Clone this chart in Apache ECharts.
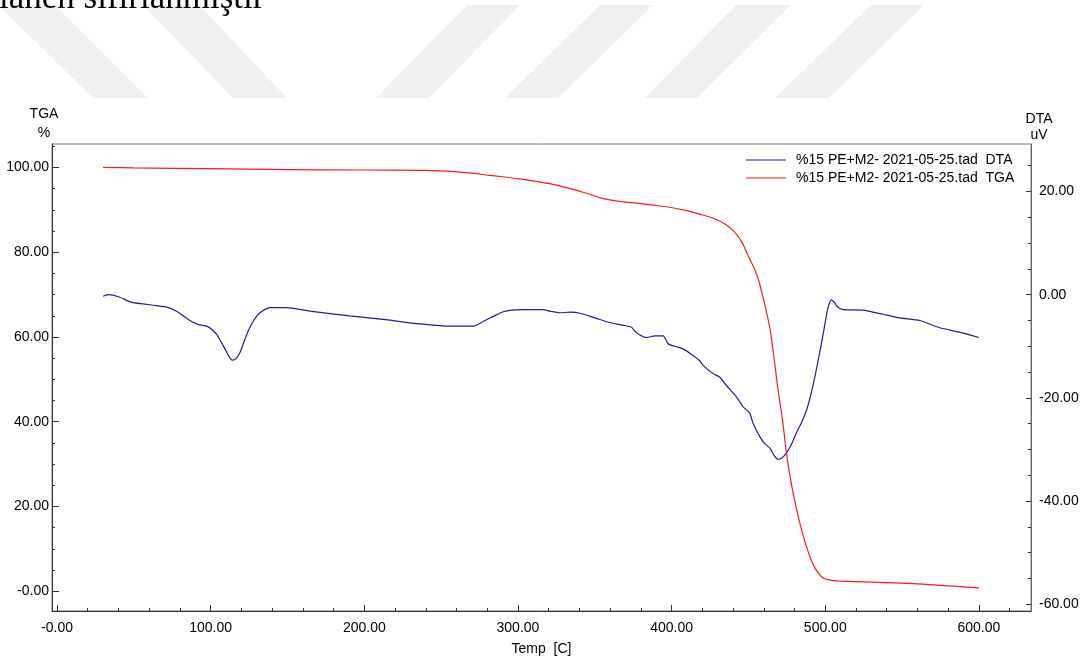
<!DOCTYPE html>
<html>
<head>
<meta charset="utf-8">
<title>TGA / DTA</title>
<script src="https://cdn.jsdelivr.net/npm/echarts@6/dist/echarts.min.js"></script>
<style>
  html, body { margin: 0; padding: 0; background: #ffffff; }
  #chart { width: 1087px; height: 661px; }
</style>
</head>
<body>
<div id="chart"></div>
<script>
// ---- Data: TGA mass (%) and DTA signal (uV) against temperature (C) ----
const tgaTemp = [30, 50, 100, 150, 200, 236, 250, 268.7, 280, 290, 301, 312, 322.7, 334, 344.6,
  355, 366, 377, 388, 398.8, 409.7, 418, 427, 435, 441, 446, 450, 453, 456.3, 459.6, 463.9,
  466.5, 469.3, 472.5, 474.4, 476.9, 480, 483.5, 486.7, 491, 495, 498.4, 503, 510, 550, 575, 600];
const tgaMass = [100.0, 99.9, 99.7, 99.5, 99.4, 99.3, 99.2, 98.7, 98.2, 97.8, 97.3, 96.7, 96.0, 95.0, 93.9,
  92.7, 92.0, 91.6, 91.1, 90.6, 89.8, 89.0, 88.0, 86.6, 84.8, 82.2, 79.0, 76.8, 73.8, 69.2, 62.2,
  55.5, 47.5, 39.5, 33.5, 27.5, 21.5, 16.0, 11.8, 7.2, 4.5, 3.2, 2.6, 2.4, 1.9, 1.4, 0.8];

const dtaTemp = [30, 33.4, 40, 48.6, 56.2, 64, 71.4, 77.9, 86.5, 92, 97.4, 101, 103.9, 106.5, 109.3,
  112, 114.3, 116.5, 119.1, 121.5, 124.5, 128, 132.1, 138.6, 149.4, 164.6, 190.6, 212.3, 234, 253.5,
  270.9, 277.4, 284, 290.4, 296, 303.4, 316.4, 320.8, 327.3, 334, 340.3, 350, 359.8, 368, 373.9,
  376.5, 379.3, 383.7, 389, 394.5, 397.7, 402, 407.5, 413, 418.3, 420.5, 427, 431.4, 435.7, 442.2,
  446.5, 450.9, 453, 457.4, 460.5, 463.9, 467, 469.3, 471.5, 474.7, 478, 481.2, 484.5, 487.8, 490.5,
  493.2, 496, 498.6, 500.3, 501.8, 504, 506, 508, 511.6, 524.6, 537.6, 548.5, 561.5, 574.5, 588, 600];
const dtaSignal = [-0.3, 0.0, -0.4, -1.5, -1.8, -2.1, -2.4, -3.2, -5.0, -5.8, -6.1, -6.8, -7.7, -9.0, -10.5,
  -12.0, -12.7, -12.4, -11.2, -9.3, -7.0, -5.0, -3.5, -2.5, -2.5, -3.2, -4.1, -4.8, -5.6, -6.1,
  -6.1, -5.2, -4.2, -3.3, -3.0, -2.9, -2.9, -3.2, -3.5, -3.4, -3.6, -4.5, -5.4, -5.9, -6.3,
  -7.2, -7.8, -8.3, -8.0, -8.0, -9.5, -10.0, -10.5, -11.6, -12.8, -13.7, -15.3, -16.0, -17.6, -19.8,
  -21.7, -23.0, -24.9, -27.5, -28.8, -29.7, -31.3, -31.9, -31.7, -30.7, -29.0, -26.8, -24.8, -22.4, -19.5,
  -16.0, -11.8, -7.7, -4.8, -2.5, -1.0, -1.5, -2.4, -2.9, -3.0, -3.8, -4.5, -5.0, -6.4, -7.3, -8.3];

const seriesNames = ['%15 PE+M2- 2021-05-25.tad  DTA', '%15 PE+M2- 2021-05-25.tad  TGA'];

// ---- Tick values and their printed labels ----
const xTickValues = [0, 100, 200, 300, 400, 500, 600];
const xTickLabels = ['-0.00', '100.00', '200.00', '300.00', '400.00', '500.00', '600.00'];
const tgaTickValues = [0, 20, 40, 60, 80, 100];
const tgaTickLabels = ['-0.00', '20.00', '40.00', '60.00', '80.00', '100.00'];
const dtaTickValues = [-60, -40, -20, 0, 20];
const dtaTickLabels = ['-60.00', '-40.00', '-20.00', '0.00', '20.00'];

// axis extents
const X_MIN = -3.25, X_MAX = 633.9;
const TGA_MIN = -4.67, TGA_MAX = 105.53;
const DTA_MIN = -61.3, DTA_MAX = 29.2;

function minorTicks(from, to, step, majorStep) {
  const out = [];
  for (let v = from; v <= to + 1e-9; v += step) {
    if (Math.abs(v % majorStep) > 1e-9) out.push(v);
  }
  return out;
}
const xMinor = minorTicks(20, 620, 20, 100);
const tgaMinor = minorTicks(5, 105, 5, 20);
const dtaMinor = minorTicks(-55, 25, 5, 20);

const FONT = '"Liberation Sans", Arial, sans-serif';
const AXIS_DARK = '#333333';
const FRAME = '#7a7a7a';

function zip(a, b) { return a.map((v, i) => [v, b[i]]); }
function labelFrom(values, labels) {
  return v => {
    const i = values.findIndex(t => Math.abs(t - v) < 1e-6);
    return i >= 0 ? labels[i] : '';
  };
}

// page decoration: grey diagonal bands and the clipped line of body text above the chart
const bands = [
  [[-2, 5], [55, 5], [148, 98], [93, 98]],
  [[143, 5], [199, 5], [287, 98], [233, 98]],
  [[467, 5], [520, 5], [429, 98], [376, 98]],
  [[600, 5], [653, 5], [558, 98], [505, 98]],
  [[736, 5], [791, 5], [697, 98], [645, 98]],
  [[871, 5], [924, 5], [829, 98], [775, 98]]
];

const chart = echarts.init(document.getElementById('chart'), null, { renderer: 'canvas' });

const option = {
  animation: false,
  backgroundColor: '#ffffff',
  textStyle: { fontFamily: FONT },
  graphic: [
    ...bands.map(p => ({
      type: 'polygon', z: -10, silent: true,
      shape: { points: p },
      style: { fill: '#f0f0f0' }
    })),
    {
      type: 'text', z: -5, silent: true,
      style: {
        text: 'lanen sıfırlanmıştır',
        x: -1, y: -19,
        font: '35px "Liberation Serif", "Times New Roman", serif',
        fill: '#000000',
        verticalAlign: 'top'
      }
    }
  ],
  grid: {
    left: 52, right: 56, top: 144, bottom: 44,
    show: true, borderColor: FRAME, borderWidth: 1, backgroundColor: 'transparent',
    containLabel: false
  },
  legend: {
    orient: 'vertical', left: 746, top: 151, padding: 0,
    itemWidth: 40, itemHeight: 1, icon: 'rect', itemGap: 0,
    data: seriesNames,
    textStyle: { fontFamily: FONT, fontSize: 14, color: '#000', lineHeight: 18, padding: [0, 0, 0, 5] }
  },
  xAxis: [
    {
      type: 'value', min: X_MIN, max: X_MAX, position: 'bottom',
      name: 'Temp  [C]', nameLocation: 'middle', nameGap: 31,
      nameTextStyle: { fontFamily: FONT, fontSize: 14, color: '#000' },
      axisLine: { show: true, onZero: false, lineStyle: { color: AXIS_DARK, width: 1 } },
      axisTick: { show: true, inside: true, length: 6, customValues: xTickValues, lineStyle: { color: AXIS_DARK } },
      axisLabel: { customValues: xTickValues, formatter: labelFrom(xTickValues, xTickLabels),
        margin: 10, fontFamily: FONT, fontSize: 14, color: '#000' },
      splitLine: { show: false }
    },
    {
      type: 'value', min: X_MIN, max: X_MAX, position: 'bottom',
      axisLine: { show: false, onZero: false },
      axisTick: { show: true, inside: true, length: 3, customValues: xMinor, lineStyle: { color: AXIS_DARK } },
      axisLabel: { show: false },
      splitLine: { show: false }
    }
  ],
  yAxis: [
    {
      type: 'value', min: TGA_MIN, max: TGA_MAX, position: 'left',
      name: 'TGA\n%', nameLocation: 'end', nameGap: 1,
      nameTextStyle: { fontFamily: FONT, fontSize: 14, color: '#000', lineHeight: 19,
        align: 'center', verticalAlign: 'bottom', padding: [0, 16, 0, 0] },
      axisLine: { show: true, onZero: false, lineStyle: { color: AXIS_DARK, width: 1 } },
      axisTick: { show: true, inside: true, length: 7, customValues: tgaTickValues, lineStyle: { color: AXIS_DARK } },
      axisLabel: { customValues: tgaTickValues, formatter: labelFrom(tgaTickValues, tgaTickLabels),
        margin: 3, fontFamily: FONT, fontSize: 14, color: '#000' },
      splitLine: { show: false }
    },
    {
      type: 'value', min: TGA_MIN, max: TGA_MAX, position: 'left',
      axisLine: { show: false, onZero: false },
      axisTick: { show: true, inside: true, length: 3, customValues: tgaMinor, lineStyle: { color: AXIS_DARK } },
      axisLabel: { show: false },
      splitLine: { show: false }
    },
    {
      type: 'value', min: DTA_MIN, max: DTA_MAX, position: 'right',
      name: 'DTA\nuV', nameLocation: 'end', nameGap: 1,
      nameTextStyle: { fontFamily: FONT, fontSize: 14, color: '#000', lineHeight: 16,
        align: 'center', verticalAlign: 'bottom', padding: [0, 0, 0, 16] },
      axisLine: { show: true, onZero: false, lineStyle: { color: '#666666', width: 1 } },
      axisTick: { show: true, inside: true, length: 5, customValues: dtaTickValues, lineStyle: { color: AXIS_DARK } },
      axisLabel: { customValues: dtaTickValues, formatter: labelFrom(dtaTickValues, dtaTickLabels),
        margin: 8, fontFamily: FONT, fontSize: 14, color: '#000' },
      splitLine: { show: false }
    },
    {
      type: 'value', min: DTA_MIN, max: DTA_MAX, position: 'right',
      axisLine: { show: false, onZero: false },
      axisTick: { show: true, inside: true, length: 3, customValues: dtaMinor, lineStyle: { color: AXIS_DARK } },
      axisLabel: { show: false },
      splitLine: { show: false }
    }
  ],
  series: [
    {
      name: seriesNames[0], type: 'line', xAxisIndex: 0, yAxisIndex: 2,
      data: zip(dtaTemp, dtaSignal),
      showSymbol: false, symbol: 'none', smooth: 0.2,
      color: '#1f1f8f',
      lineStyle: { color: '#1f1f8f', width: 1.2 },
      z: 2
    },
    {
      name: seriesNames[1], type: 'line', xAxisIndex: 0, yAxisIndex: 0,
      data: zip(tgaTemp, tgaMass),
      showSymbol: false, symbol: 'none', smooth: 0.3,
      color: '#ff1a1a',
      lineStyle: { color: '#ff1a1a', width: 1.2 },
      z: 3
    }
  ]
};

chart.setOption(option);
</script>
</body>
</html>
